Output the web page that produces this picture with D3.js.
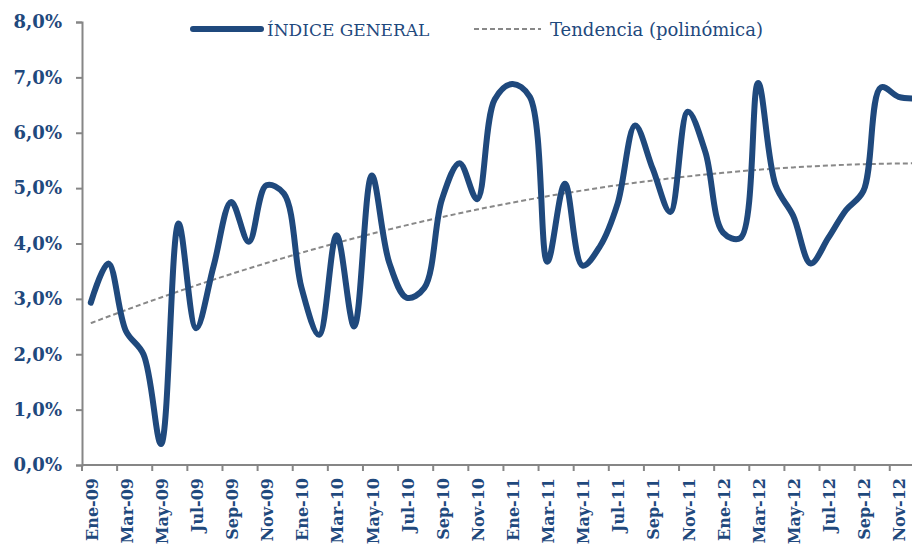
<!DOCTYPE html>
<html>
<head>
<meta charset="utf-8">
<script src="https://cdn.jsdelivr.net/npm/d3@7"></script>
<style>
  body { margin: 0; background: #fff; }
  svg { display: block; font-family: 'DejaVu Serif', serif; }
</style>
</head>
<body>
<div id="chart"></div>
<script>
// monthly values, Ene-09 .. Dic-12 (in %)
const months = ["Ene", "Feb", "Mar", "Abr", "May", "Jun", "Jul", "Ago", "Sep", "Oct", "Nov", "Dic"];
const years = ["09", "10", "11", "12"];
const categories = years.flatMap(y => months.map(m => `${m}-${y}`));

const indice2009 = [2.93, 3.64, 2.42, 2.00, 0.38, 4.36, 2.47, 3.60, 4.75, 4.03, 5.05, 4.90];
const indice2010 = [3.20, 2.35, 4.15, 2.50, 5.23, 3.65, 3.02, 3.20, 4.80, 5.45, 4.80, 6.60];
const indice2011 = [6.88, 6.65, 3.67, 5.08, 3.60, 3.95, 4.72, 6.13, 5.35, 4.57, 6.38, 5.65];
const indice2012 = [4.20, 4.10, 6.90, 5.05, 4.50, 3.64, 4.10, 4.60, 4.95, 6.82, 6.65, 6.62];
const indice = [...indice2009, ...indice2010, ...indice2011, ...indice2012];

const yTicks = [0, 1, 2, 3, 4, 5, 6, 7, 8];

const seriesName = "ÍNDICE GENERAL";
const trendName = "Tendencia (polinómica)";

const blue = "#1f497d";
const grey = "#868686";

const width = 912, height = 547;
const margin = { top: 22, left: 82, bottom: 465 };

const svg = d3.select("#chart").append("svg")
  .attr("width", width)
  .attr("height", height);

// polynomial (order 2) trendline, least squares fit on the series
function quadFit(vals) {
  let s = [0, 0, 0, 0, 0], t = [0, 0, 0];
  vals.forEach((v, i) => {
    const x = i + 1;
    for (let k = 0; k < 5; k++) s[k] += Math.pow(x, k);
    for (let k = 0; k < 3; k++) t[k] += v * Math.pow(x, k);
  });
  // solve 3x3 normal equations
  const A = [[s[0], s[1], s[2], t[0]], [s[1], s[2], s[3], t[1]], [s[2], s[3], s[4], t[2]]];
  for (let c = 0; c < 3; c++) {
    for (let r = c + 1; r < 3; r++) {
      const f = A[r][c] / A[c][c];
      for (let k = c; k < 4; k++) A[r][k] -= f * A[c][k];
    }
  }
  const b = [0, 0, 0];
  for (let r = 2; r >= 0; r--) {
    let sum = A[r][3];
    for (let k = r + 1; k < 3; k++) sum -= A[r][k] * b[k];
    b[r] = sum / A[r][r];
  }
  return vals.map((v, i) => b[0] + b[1] * (i + 1) + b[2] * (i + 1) * (i + 1));
}
const trend = quadFit(indice);

// scales
const x = d3.scaleBand()
  .domain(categories)
  .range([margin.left, margin.left + 48 * 17.56])
  .padding(0);

const y = d3.scaleLinear()
  .domain([0, 8])
  .range([margin.bottom, margin.top]);

const cx = d => x(d) + x.bandwidth() / 2;

// y axis
const yAxis = svg.append("g")
  .attr("transform", `translate(${margin.left},0)`)
  .call(d3.axisLeft(y)
    .tickValues(yTicks)
    .tickSize(6)
    .tickPadding(14)
    .tickFormat(d => d.toFixed(1).replace(".", ",") + "%"));
yAxis.select(".domain").attr("stroke", grey).attr("stroke-width", 2);
yAxis.selectAll(".tick line").attr("stroke", grey).attr("stroke-width", 2);
yAxis.selectAll(".tick text")
  .attr("fill", blue)
  .style("font-size", "18px")
  .style("font-weight", "bold")
  .style("font-family", "'DejaVu Serif', serif");

// x axis: tick marks at every second month boundary
const evenCats = categories.filter((c, i) => i % 2 === 0);
const xAxis = svg.append("g").attr("transform", `translate(0,${margin.bottom})`);
xAxis.append("line")
  .attr("x1", margin.left).attr("x2", width)
  .attr("stroke", grey).attr("stroke-width", 2);
xAxis.selectAll(".xtick")
  .data(evenCats)
  .enter().append("line")
  .attr("class", "xtick")
  .attr("x1", d => x(d)).attr("x2", d => x(d))
  .attr("y1", 0).attr("y2", 6)
  .attr("stroke", grey).attr("stroke-width", 2);

xAxis.selectAll(".xlabel")
  .data(evenCats)
  .enter().append("text")
  .attr("class", "xlabel")
  .attr("transform", d => `translate(${cx(d) + 1},13) rotate(-90)`)
  .attr("text-anchor", "end")
  .attr("dy", "0.36em")
  .attr("fill", blue)
  .style("font-size", "16px")
  .style("font-weight", "bold")
  .text(d => d);

// trendline
svg.append("path")
  .datum(trend)
  .attr("fill", "none")
  .attr("stroke", "#888888")
  .attr("stroke-width", 2)
  .attr("stroke-dasharray", "5,3")
  .attr("d", d3.line()
    .x((d, i) => cx(categories[i]))
    .y(d => y(d))
    .curve(d3.curveMonotoneX));

// main series
svg.append("path")
  .datum(indice)
  .attr("fill", "none")
  .attr("stroke", blue)
  .attr("stroke-width", 6)
  .attr("stroke-linejoin", "round")
  .attr("stroke-linecap", "round")
  .attr("d", d3.line()
    .x((d, i) => cx(categories[i]))
    .y(d => y(d))
    .curve(d3.curveCatmullRom.alpha(0.5)));

// legend
const legend = svg.append("g").attr("class", "legend");
legend.append("line")
  .attr("x1", 193).attr("x2", 261).attr("y1", 29).attr("y2", 29)
  .attr("stroke", blue).attr("stroke-width", 6).attr("stroke-linecap", "round");
legend.append("text")
  .attr("x", 267).attr("y", 36)
  .attr("fill", blue)
  .style("font-size", "17px")
  .text(seriesName);
legend.append("line")
  .attr("x1", 474).attr("x2", 541).attr("y1", 29).attr("y2", 29)
  .attr("stroke", "#888888").attr("stroke-width", 2).attr("stroke-dasharray", "5,3");
legend.append("text")
  .attr("x", 550).attr("y", 36)
  .attr("fill", blue)
  .style("font-size", "18px")
  .text(trendName);
</script>
</body>
</html>
